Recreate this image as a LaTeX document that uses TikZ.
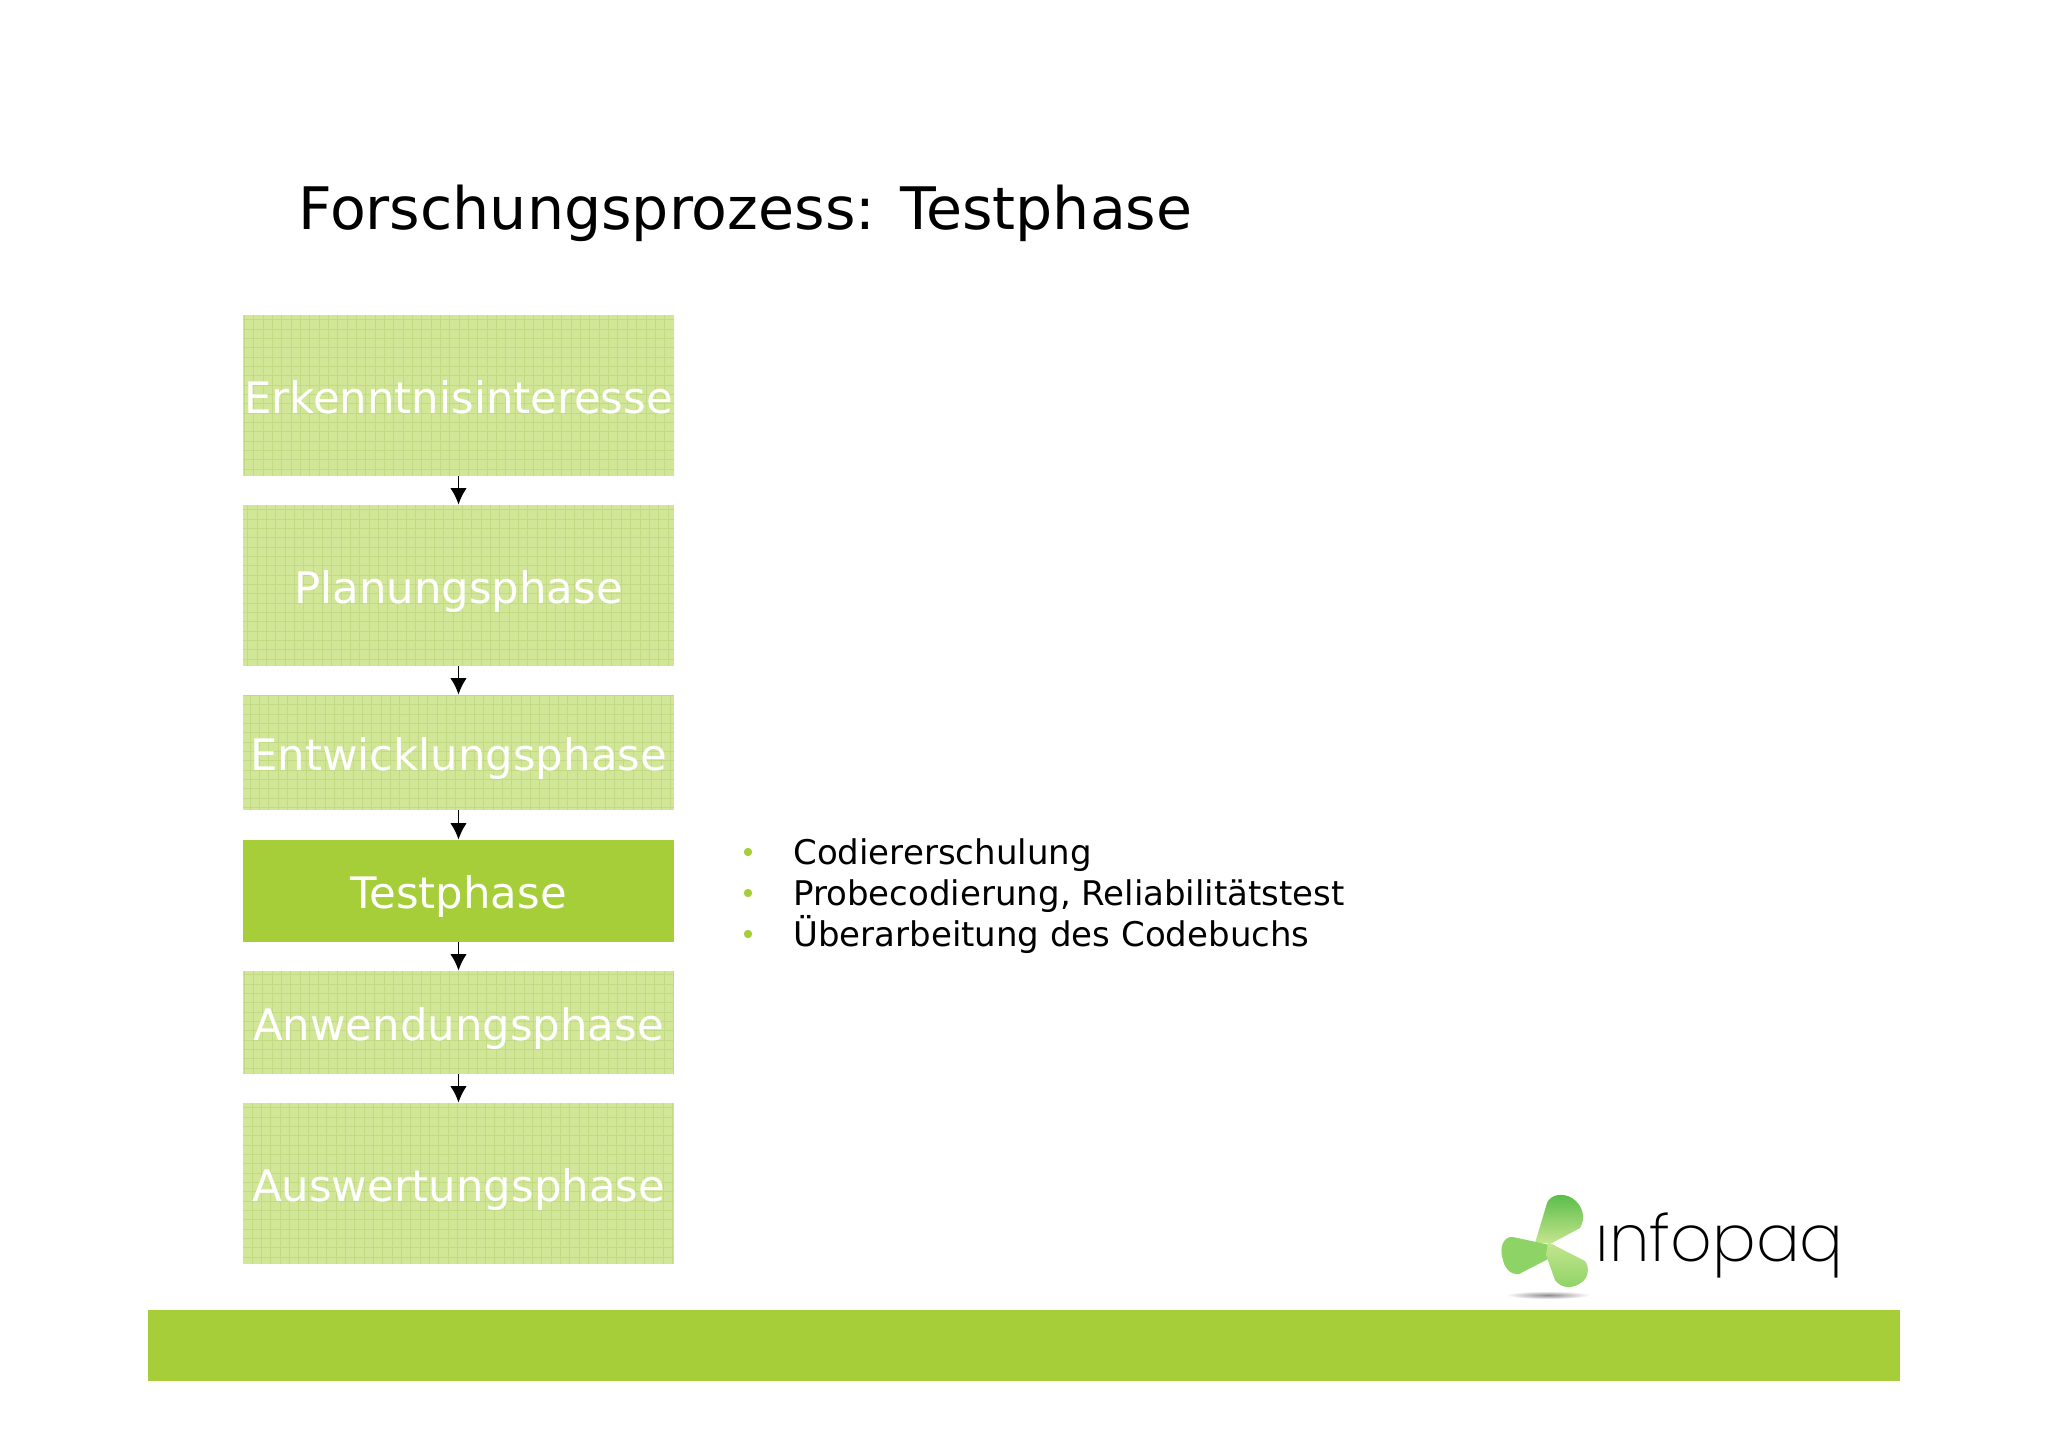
\documentclass[tikz,border=0pt]{standalone}
\usepackage{fontspec}
\setmainfont{DejaVu Sans}
\newfontfamily\logofont{Poppins ExtraLight}
\usetikzlibrary{arrows.meta}
\definecolor{barGreen}{HTML}{A5CE39}
\definecolor{boxGreen}{HTML}{D2E698}
\definecolor{gridGreen}{HTML}{C2DA84}
\definecolor{leafLight}{HTML}{C4E58E}
\definecolor{leafMid}{HTML}{8DD365}
\definecolor{leafDark}{HTML}{55BB46}
\begin{document}
\begin{tikzpicture}[x=0.5pt,y=-0.5pt]

    \tikzset{
      PhaseStyle/.style = { rectangle, inner sep = 0pt, minimum width = 215.5pt,
                          text height = 17.5pt, text depth = 0pt,
                          text = white, font = \fontsize{21.7}{26}\selectfont },
      GridPhase/.style = { PhaseStyle, fill = boxGreen,
                          path picture = {\draw[gridGreen, line width = 0.35pt, step = 4.67pt]
                          (path picture bounding box.south west) grid (path picture bounding box.north east);} },
      ItemStyle/.style = { anchor = base west, inner sep = 0pt, font = \fontsize{17}{20}\selectfont },
      BulletStyle/.style = { circle, fill = barGreen, inner sep = 0pt, minimum size = 4.2pt },
      FlowStyle/.style = { black, line width = 0.9pt, -{Latex[length=8.2pt,width=8.2pt]} } }

    \useasboundingbox (0,0) rectangle (2048,1448);

    \node[anchor = base west, inner sep = 0pt, font = \fontsize{29.3}{35}\selectfont] (title) at (298,229) {Forschungsprozess: Testphase};

    \node[GridPhase, minimum height = 80.5pt] (erkenntnis) at (458.5,395.5) {Erkenntnisinteresse};
    \node[GridPhase, minimum height = 80.5pt] (planung) at (458.5,585.5) {Planungsphase};
    \node[GridPhase, minimum height = 57.5pt] (entwicklung) at (458.5,752.5) {Entwicklungsphase};
    \node[PhaseStyle, fill = barGreen, minimum height = 51pt] (test) at (458.5,891) {Testphase};
    \node[GridPhase, minimum height = 51.5pt] (anwendung) at (458.5,1022.5) {Anwendungsphase};
    \node[GridPhase, minimum height = 80.5pt] (auswertung) at (458.5,1183.5) {Auswertungsphase};

    \draw[FlowStyle] (erkenntnis) -- (planung);
    \draw[FlowStyle] (planung) -- (entwicklung);
    \draw[FlowStyle] (entwicklung) -- (test);
    \draw[FlowStyle] (test) -- (anwendung);
    \draw[FlowStyle] (anwendung) -- (auswertung);

    \node[BulletStyle] (b1) at (748,852) {};
    \node[BulletStyle] (b2) at (748,893) {};
    \node[BulletStyle] (b3) at (748,934) {};
    \node[ItemStyle] (i1) at (793,864.5) {Codiererschulung};
    \node[ItemStyle] (i2) at (793,905.5) {Probecodierung, Reliabilitätstest};
    \node[ItemStyle] (i3) at (793,946.5) {Überarbeitung des Codebuchs};

    % footer and logo
    \node[rectangle, fill = barGreen, inner sep = 0pt, minimum width = 876pt, minimum height = 35.5pt] (bar) at (1024,1345.5) {};

    \shade[inner color = black!45, outer color = white] (1548,1295) ellipse (42 and 4);
    \shade[top color = leafDark, bottom color = leafLight]
      (1535,1243) -- (1547,1203) .. controls (1550,1195) and (1562,1192) .. (1572,1198)
      .. controls (1583,1205) and (1586,1218) .. (1580,1228) -- (1552,1243) -- cycle;
    \shade[left color = leafMid, middle color = leafLight, right color = leafMid]
      (1550,1245) -- (1513,1237) .. controls (1503,1236) and (1500,1248) .. (1502,1256)
      .. controls (1504,1268) and (1510,1275) .. (1519,1274) -- (1550,1258) -- cycle;
    \shade[top color = leafLight, bottom color = leafMid]
      (1548,1242) -- (1585,1261) .. controls (1590,1268) and (1588,1278) .. (1582,1282)
      .. controls (1575,1288) and (1562,1290) .. (1555,1280) -- (1546,1255) -- cycle;
    \node[anchor = base west, inner sep = 0pt, font = \logofont\fontsize{32.5}{40}\selectfont] (logo) at (1595,1261) {ınfopaq};

\end{tikzpicture}
\end{document}
